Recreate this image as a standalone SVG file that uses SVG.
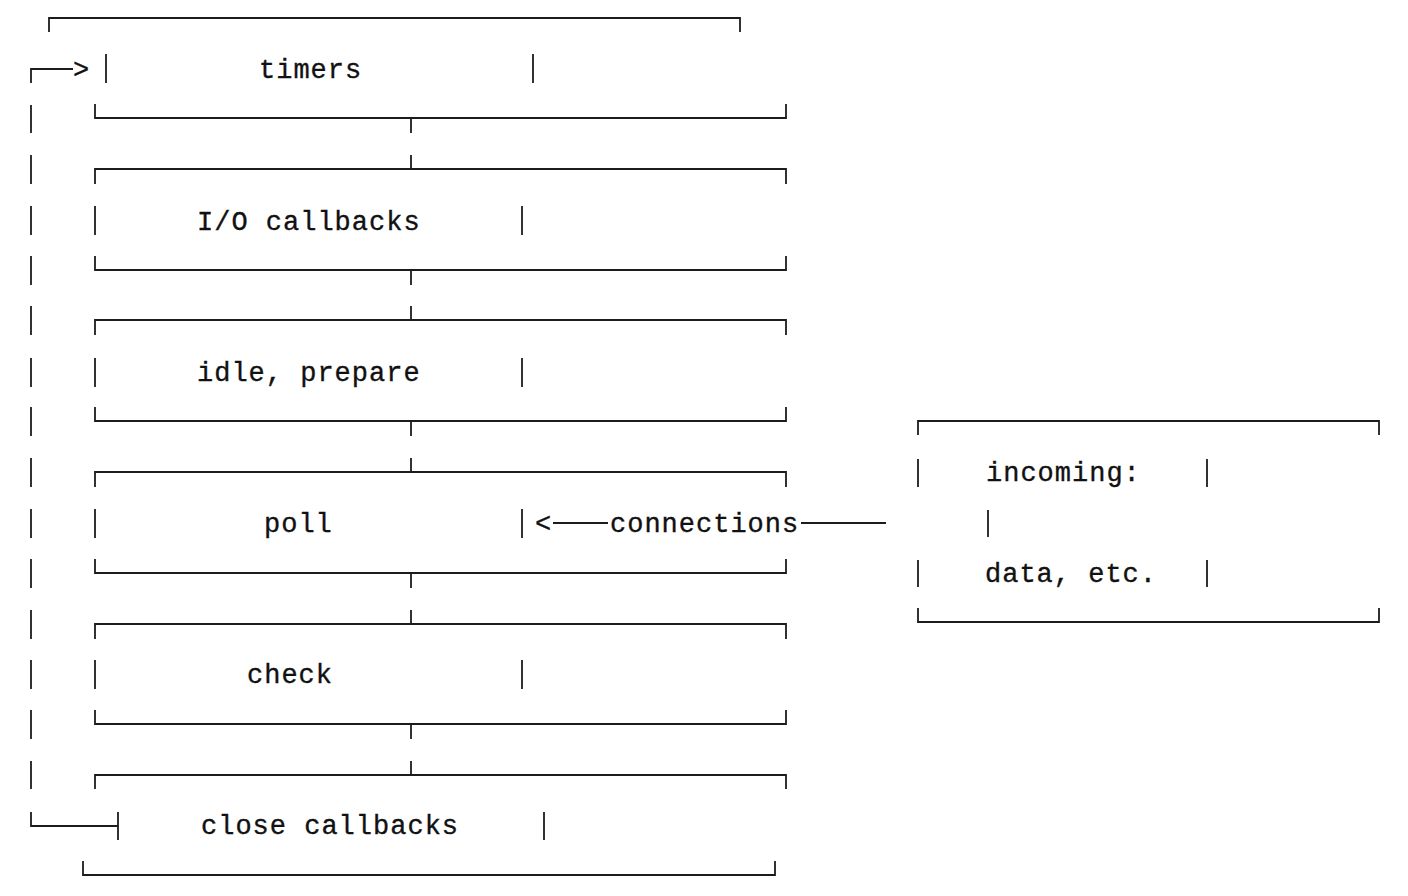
<svg xmlns="http://www.w3.org/2000/svg" width="1408" height="896" viewBox="0 0 1408 896">
<style>
  .ln { stroke:#1c1c1c; stroke-width:1.8; fill:none; stroke-linecap:butt; }
  .tx { font-family:"Liberation Mono","Courier New",monospace; font-size:27px; letter-spacing:1px; fill:#111; stroke:#111; stroke-width:0.35; }
</style>
<rect width="1408" height="896" fill="#fff"/>
<g id="timers">
  <path class="ln" d="M49,32 V18 H740 V32"/>
  <path class="ln" d="M106,54 V83 M533,54 V83"/>
  <text class="tx" x="259" y="78">timers</text>
  <path class="ln" d="M95,104 V118 H786 V104"/>
</g>
<g id="io-callbacks">
  <path class="ln" d="M95,184 V169 H786 V184"/>
  <path class="ln" d="M95,206 V235 M522,206 V235"/>
  <text class="tx" x="197" y="230">I/O callbacks</text>
  <path class="ln" d="M95,256 V270 H786 V256"/>
</g>
<g id="idle-prepare">
  <path class="ln" d="M95,335 V320 H786 V335"/>
  <path class="ln" d="M95,358 V387 M522,358 V387"/>
  <text class="tx" x="197" y="381">idle, prepare</text>
  <path class="ln" d="M95,407 V421 H786 V407"/>
</g>
<g id="poll">
  <path class="ln" d="M95,487 V472 H786 V487"/>
  <path class="ln" d="M95,509 V538 M522,509 V538"/>
  <text class="tx" x="264" y="532">poll</text>
  <path class="ln" d="M95,559 V573 H786 V559"/>
</g>
<g id="check">
  <path class="ln" d="M95,639 V624 H786 V639"/>
  <path class="ln" d="M95,660 V689 M522,660 V689"/>
  <text class="tx" x="247" y="683">check</text>
  <path class="ln" d="M95,710 V724 H786 V710"/>
</g>
<g id="close-callbacks">
  <path class="ln" d="M95,789 V775 H786 V789"/>
  <path class="ln" d="M118,812 V840 M544,812 V840"/>
  <text class="tx" x="201" y="834">close callbacks</text>
  <path class="ln" d="M83,861 V875 H775 V861"/>
</g>
<g id="incoming">
  <path class="ln" d="M918,435 V421 H1379 V435"/>
  <path class="ln" d="M918,459 V487 M1207,459 V487"/>
  <text class="tx" x="986" y="481">incoming:</text>
  <path class="ln" d="M988,510 V537"/>
  <path class="ln" d="M918,560 V587 M1207,560 V587"/>
  <text class="tx" x="985" y="582">data, etc.</text>
  <path class="ln" d="M918,608 V622 H1379 V608"/>
</g>
<g id="connectors">
  <path class="ln" d="M411,118 V133 M411,155 V169 M411,270 V285 M411,306 V320 M411,421 V436 M411,458 V472 M411,573 V588 M411,610 V624 M411,724 V739 M411,761 V775"/>
  <path class="ln" d="M31,83 V69 H73"/>
  <text class="tx" x="73" y="78">&gt;</text>
  <path class="ln" d="M31,105 V133 M31,155 V184 M31,206 V235 M31,256 V285 M31,306 V335 M31,358 V387 M31,407 V436 M31,458 V487 M31,509 V538 M31,559 V588 M31,610 V639 M31,660 V689 M31,710 V739 M31,761 V789"/>
  <path class="ln" d="M31,812 V826 H118"/>
  <text class="tx" x="535" y="532">&lt;</text>
  <path class="ln" d="M553,523 H608 M801,523 H886"/>
  <text class="tx" x="610" y="532">connections</text>
</g>
</svg>
